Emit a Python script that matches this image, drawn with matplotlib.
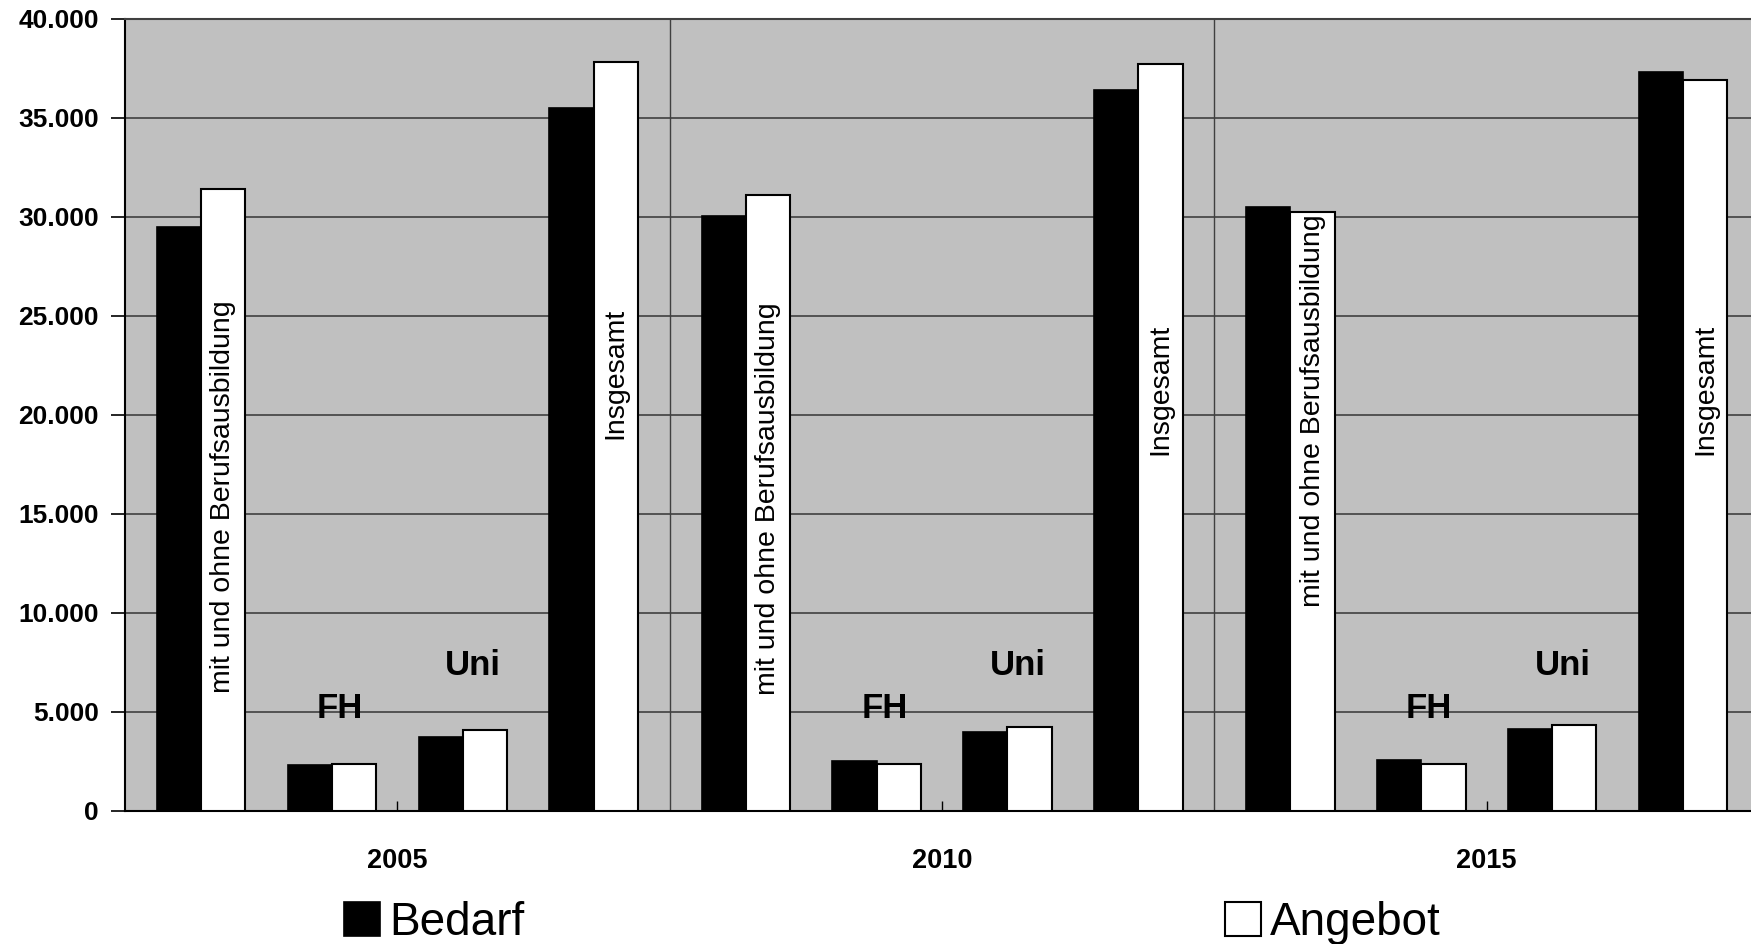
import matplotlib
matplotlib.use("Agg")
import matplotlib.pyplot as plt
from matplotlib.ticker import FuncFormatter
import numpy as np

plt.rcParams['font.family'] = ['Liberation Sans', 'DejaVu Sans']

years = ["2005", "2010", "2015"]
categories = ["mit und ohne Berufsausbildung", "FH", "Uni", "Insgesamt"]
series_names = ["Bedarf", "Angebot"]
bedarf = [
    [29500, 2300, 3750, 35500],
    [30050, 2500, 4000, 36400],
    [30500, 2600, 4150, 37300],
]
angebot = [
    [31400, 2350, 4100, 37850],
    [31100, 2350, 4250, 37750],
    [30250, 2350, 4350, 36900],
]
y_ticks = [0, 5000, 10000, 15000, 20000, 25000, 30000, 35000, 40000]

# label placement (y centers in data units)
mit_label_y = [15850, 15750, 20200]
ins_label_y = [22100, 21300, 21300]

fig = plt.figure(figsize=(17.51, 9.44), dpi=100)
ax = fig.add_axes([0.0714, 0.1409, 1.0046 - 0.0714, 0.9799 - 0.1409])
ax.set_facecolor('#C0C0C0')

G = 4.1624          # group step in category units
w = 0.338           # bar width
ncat = len(categories)

for g in range(len(years)):
    xs = g * G + np.arange(ncat)
    ax.bar(xs - w / 2, bedarf[g], width=w, color='black', edgecolor='black',
           linewidth=1.2, zorder=3, label=series_names[0] if g == 0 else None)
    ax.bar(xs + w / 2, angebot[g], width=w, color='white', edgecolor='black',
           linewidth=1.5, zorder=3, label=series_names[1] if g == 0 else None)
    # text labels
    ax.text(xs[0] + w / 2, mit_label_y[g], categories[0], rotation=90,
            ha='center', va='center', fontsize=20.5, zorder=4)
    ax.text(xs[3] + w / 2, ins_label_y[g], categories[3], rotation=90,
            ha='center', va='center', fontsize=20.5, zorder=4)
    ax.text(xs[1] + 0.06, 5200, categories[1], ha='center', va='center',
            fontsize=25, fontweight='bold', zorder=4)
    ax.text(xs[2] + 0.08, 7350, categories[2], ha='center', va='center',
            fontsize=25, fontweight='bold', zorder=4)

left = -0.581
right = 2 * G + 3 + 0.581
ax.set_xlim(left, right)
ax.set_ylim(0, 40000)

# group separators
for g in range(len(years) - 1):
    ax.axvline(g * G + 3.581, color='#404040', linewidth=1.0, zorder=1)

ax.set_yticks(y_ticks)
ax.yaxis.set_major_formatter(FuncFormatter(lambda v, p: f"{int(v):,}".replace(",", ".")))
ax.yaxis.grid(True, color='#404040', linewidth=1.2, zorder=1)
ax.set_axisbelow(True)

centers = [g * G + 1.5 for g in range(len(years))]
ax.set_xticks(centers)
ax.set_xticklabels(years)

ax.tick_params(axis='y', direction='out', length=10, width=1.2, pad=9,
               labelsize=19)
ax.tick_params(axis='x', direction='in', length=7, width=1.0, pad=27,
               labelsize=19.5)
for lab in ax.get_yticklabels() + ax.get_xticklabels():
    lab.set_fontweight('bold')

for s in ['left', 'bottom']:
    ax.spines[s].set_color('black')
    ax.spines[s].set_linewidth(1.5)
ax.spines['top'].set_color('#404040')
ax.spines['top'].set_linewidth(1.5)
ax.spines['right'].set_visible(False)

leg = fig.legend(loc='center left', bbox_to_anchor=(344 / 1751, 1 - 923 / 944),
                 ncol=2, frameon=False, fontsize=33, handlelength=0.78,
                 handleheight=0.78, handletextpad=0.2, columnspacing=15.3,
                 borderpad=0, borderaxespad=0)

fig.savefig("out.png", dpi=100)
